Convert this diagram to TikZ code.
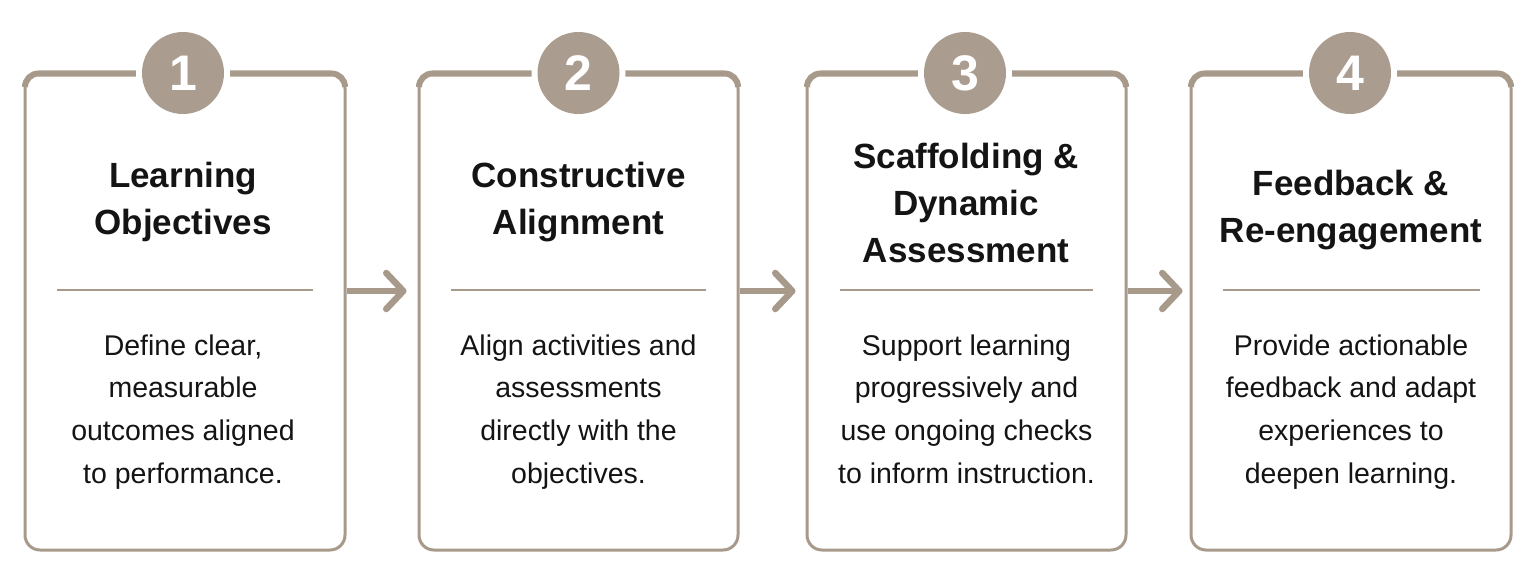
\documentclass[tikz,border=0pt]{standalone}
\usepackage{fontspec}
\setmainfont{Liberation Sans}
\usetikzlibrary{arrows.meta}
\definecolor{taupe}{HTML}{A89A8B}
\definecolor{badgec}{HTML}{AA9D8F}
\definecolor{ink}{HTML}{141414}
\tikzset{
  card/.style={draw=taupe, line width=3pt, rounded corners=15pt, fill=white,
    inner sep=0pt, minimum height=476.5pt},
  topedge/.style={draw=taupe, line width=6pt, rounded corners=13.5pt},
  ring/.style={circle, fill=white, minimum size=94pt, inner sep=0pt},
  badge/.style={circle, fill=badgec, minimum size=82pt, inner sep=0pt,
    text=white, font=\fontsize{50pt}{50pt}\selectfont\bfseries},
  titletext/.style={anchor=north, align=center, text=ink, inner sep=0pt,
    font=\fontsize{35pt}{47pt}\selectfont\bfseries},
  bodytext/.style={anchor=north, align=center, text=ink, inner sep=0pt,
    font=\fontsize{28.5pt}{42.7pt}\selectfont},
  divider/.style={draw=taupe, line width=2pt},
  flow/.style={draw=taupe, line width=6.5pt,
    -{Straight Barb[length=17pt, width=36pt, round]}},
}
\begin{document}
\begin{tikzpicture}[x=1pt,y=-1pt]
\useasboundingbox[fill=white] (0,0) rectangle (1536,578);

% cards
\node[card, minimum width=320pt] (c1) at (185,311.75) {};
\node[card, minimum width=319pt] (c2) at (578.5,311.75) {};
\node[card, minimum width=319pt] (c3) at (966.5,311.75) {};
\node[card, minimum width=320pt] (c4) at (1351,311.75) {};

% thick top edges (outer edge flush with the card outline)
\foreach \c in {c1,c2,c3,c4}{
  \draw[topedge] ([xshift=1.5pt,yshift=-15pt]\c.north west)
     -- ([xshift=1.5pt,yshift=-1.5pt]\c.north west)
     -- ([xshift=-1.5pt,yshift=-1.5pt]\c.north east)
     -- ([xshift=-1.5pt,yshift=-15pt]\c.north east);
}

% badges
\node[ring] (r1) at (183,73) {};
\node[badge] (b1) at (183,73) {1};
\node[ring] (r2) at (578.5,73) {};
\node[badge] (b2) at (578.5,73) {2};
\node[ring] (r3) at (965,73) {};
\node[badge] (b3) at (965,73) {3};
\node[ring] (r4) at (1350,73) {};
\node[badge] (b4) at (1350,73) {4};

% titles
\node[titletext] (t1) at (183,154) {\strut Learning\\Objectives};
\node[titletext] (t2) at (578.5,154) {\strut Constructive\\Alignment};
\node[titletext] (t3) at (966,135) {\strut Scaffolding \&\\Dynamic\\Assessment};
\node[titletext] (t4) at (1351,162) {\strut Feedback \&\\Re-engagement};

% dividers
\coordinate (d1a) at (57,290);   \coordinate (d1b) at (313,290);
\coordinate (d2a) at (451,290);  \coordinate (d2b) at (706,290);
\coordinate (d3a) at (840,290);  \coordinate (d3b) at (1093,290);
\coordinate (d4a) at (1223,290); \coordinate (d4b) at (1480,290);
\draw[divider] (d1a) -- (d1b);
\draw[divider] (d2a) -- (d2b);
\draw[divider] (d3a) -- (d3b);
\draw[divider] (d4a) -- (d4b);

% body texts
\node[bodytext] (p1) at (183,325) {\strut Define clear,\\measurable\\outcomes aligned\\to performance.};
\node[bodytext] (p2) at (578.5,325) {\strut Align activities and\\assessments\\directly with the\\objectives.};
\node[bodytext] (p3) at (966.5,325) {\strut Support learning\\progressively and\\use ongoing checks\\to inform instruction.};
\node[bodytext] (p4) at (1351,325) {\strut Provide actionable\\feedback and adapt\\experiences to\\deepen learning.};

% arrows
\draw[flow] ([yshift=20.75pt]c1.east) -- ([xshift=-11pt,yshift=20.75pt]c2.west);
\draw[flow] ([yshift=20.75pt]c2.east) -- ([xshift=-10pt,yshift=20.75pt]c3.west);
\draw[flow] ([yshift=20.75pt]c3.east) -- ([xshift=-7pt,yshift=20.75pt]c4.west);
\end{tikzpicture}
\end{document}
